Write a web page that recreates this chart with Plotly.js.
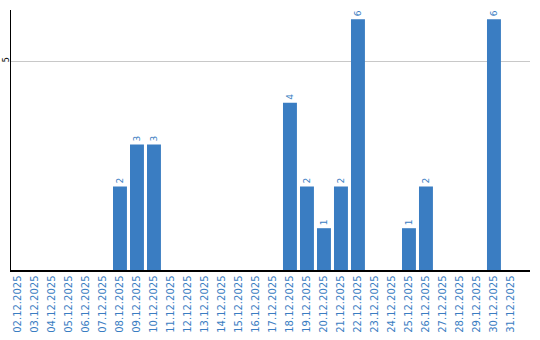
<!DOCTYPE html>
<html>
<head>
<meta charset="utf-8">
<script src="https://cdn.plot.ly/plotly-3.0.1.min.js"></script>
<style>html,body{margin:0;padding:0;background:#fff;}#chart{width:540px;height:340px;}</style>
</head>
<body>
<div id="chart"></div>
<script>
const dates = ["02.12.2025","03.12.2025","04.12.2025","05.12.2025","06.12.2025","07.12.2025","08.12.2025","09.12.2025","10.12.2025","11.12.2025","12.12.2025","13.12.2025","14.12.2025","15.12.2025","16.12.2025","17.12.2025","18.12.2025","19.12.2025","20.12.2025","21.12.2025","22.12.2025","23.12.2025","24.12.2025","25.12.2025","26.12.2025","27.12.2025","28.12.2025","29.12.2025","30.12.2025","31.12.2025"];
const counts = [0,0,0,0,0,0,2,3,3,0,0,0,0,0,0,0,4,2,1,2,6,0,0,1,2,0,0,0,6,0];
const labels = counts.map(v => v > 0 ? String(v) : "");
const blue = "#3a7dc2";

const trace = {
  type: "bar",
  x: dates,
  y: counts,
  text: labels,
  textposition: "outside",
  textangle: -90,
  textfont: {family: "DejaVu Sans", size: 9, color: blue},
  cliponaxis: false,
  marker: {color: blue},
  width: 0.82,
  hoverinfo: "none"
};

const layout = {
  width: 540, height: 340,
  margin: {l: 11, r: 10, t: 10, b: 70, pad: 0},
  paper_bgcolor: "#fff", plot_bgcolor: "#fff",
  showlegend: false,
  xaxis: {
    type: "category",
    range: [-0.41, 30.12],
    tickangle: -90,
    tickfont: {family: "DejaVu Sans", size: 10, color: blue},
    showline: true, linecolor: "#000", linewidth: 1.5,
    showgrid: false, ticks: "", ticklen: 0,
    zeroline: false
  },
  yaxis: {
    range: [0, 6.22],
    tickvals: [5],
    ticktext: ["5"],
    tickangle: -90,
    ticklabelstandoff: -3,
    tickfont: {family: "DejaVu Sans", size: 8, color: "#000"},
    showline: true, linecolor: "#000", linewidth: 1.5,
    showgrid: true, gridcolor: "#c8c8c8", gridwidth: 1,
    zeroline: false, ticks: ""
  }
};

Plotly.newPlot("chart", [trace], layout, {displayModeBar: false, staticPlot: true});
</script>
</body>
</html>
